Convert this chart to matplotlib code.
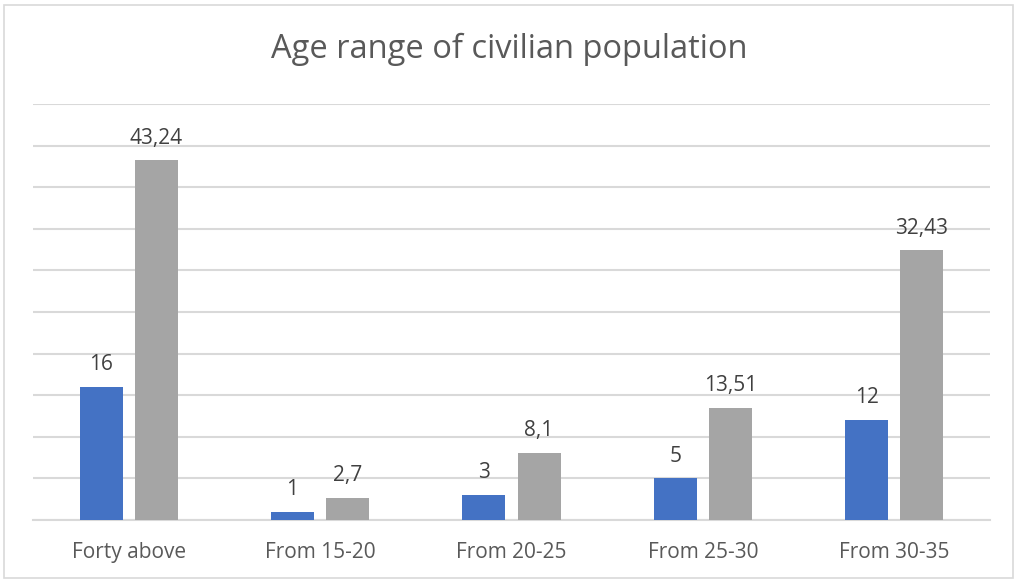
import matplotlib
matplotlib.use("Agg")
import matplotlib.pyplot as plt
from matplotlib.patches import Rectangle
import numpy as np

categories = ["Forty above", "From 15-20", "From 20-25", "From 25-30", "From 30-35"]
series_a = [16, 1, 3, 5, 12]
series_b = [43.24, 2.7, 8.1, 13.51, 32.43]
labels_a = ["16", "1", "3", "5", "12"]
labels_b = ["43,24", "2,7", "8,1", "13,51", "32,43"]

plt.rcParams['font.family'] = ['Open Sans', 'DejaVu Sans']
text_color = "#595959"
grid_color = "#D9D9D9"

fig = plt.figure(figsize=(10.19, 5.81), dpi=100)
ax = fig.add_axes([33 / 1019, 61 / 581, 957 / 1019, 416 / 581])

x = np.arange(len(categories))
w = 0.225
off = 0.144
bars_a = ax.bar(x - off, series_a, w, color="#4472C4", zorder=3)
bars_b = ax.bar(x + off, series_b, w, color="#A5A5A5", zorder=3)

for bars, labs in ((bars_a, labels_a), (bars_b, labels_b)):
    for b, lab in zip(bars, labs):
        ax.annotate(lab, (b.get_x() + b.get_width() / 2, b.get_height()),
                    xytext=(0, 12), textcoords="offset points",
                    ha="center", va="baseline", fontsize=15, color="#404040")

ax.set_xlim(-0.5, len(categories) - 0.5)
ax.set_ylim(0, 50)
ax.set_yticks(np.arange(0, 51, 5))
ax.yaxis.grid(True, color=grid_color, linewidth=1.5, zorder=0)
ax.tick_params(axis="y", left=False, labelleft=False)
ax.set_xticks(x)
ax.set_xticklabels(categories, fontsize=15, color=text_color)
ax.tick_params(axis="x", length=0, pad=15.5)
for s in ("top", "right", "left"):
    ax.spines[s].set_visible(False)
ax.spines["bottom"].set_color(grid_color)
ax.spines["bottom"].set_linewidth(1.5)

fig.text(0.5, 1 - 49 / 581, "Age range of civilian population", ha="center", va="center",
         fontsize=23.5, color=text_color)

fig.patches.append(Rectangle((4 / 1019, 3 / 581), 1009 / 1019, 573 / 581,
                             transform=fig.transFigure, fill=False,
                             edgecolor=grid_color, linewidth=1.2))

fig.savefig("out.png", dpi=100)
